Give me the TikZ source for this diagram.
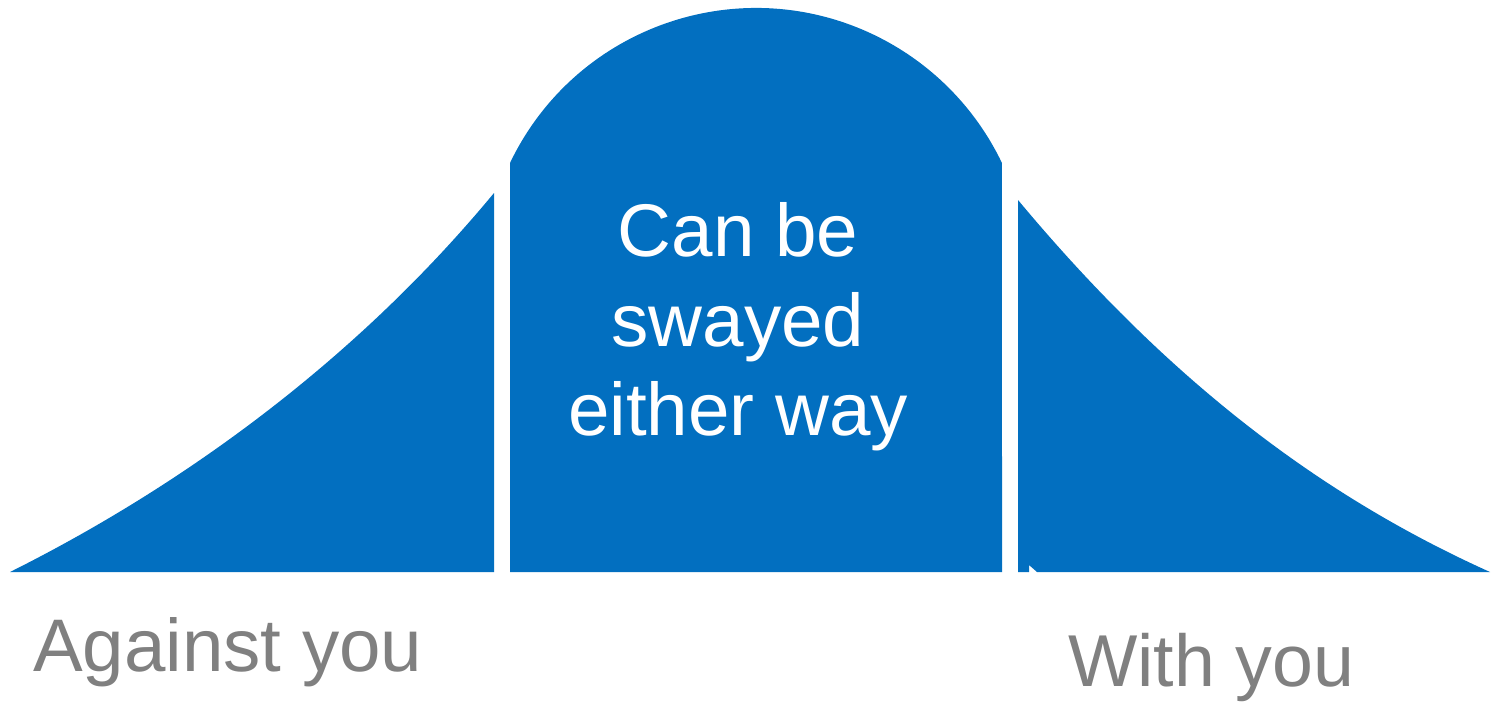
\documentclass[tikz,border=0pt]{standalone}
\usepackage{fontspec}
\setmainfont{Liberation Sans}
\definecolor{curveblue}{RGB}{2,111,192}
\definecolor{labelgray}{RGB}{128,128,128}
\tikzset{
  region/.style={fill=curveblue, draw=none},
  midtext/.style={text=white, inner sep=0pt, anchor=base, font=\fontsize{74.6}{89}\selectfont},
  sidetext/.style={text=labelgray, inner sep=0pt, anchor=base west},
}
\begin{document}
\begin{tikzpicture}[x=1pt,y=-1pt]
\useasboundingbox (0,0) rectangle (1491,704);
% left tail
\fill[region] (10,572) .. controls (190,482) and (360,355) .. (494,193) -- (494,572) -- cycle;
% middle
\fill[region] (510,572) -- (510,163) arc[start angle=154.43, end angle=25.57, radius=272.7pt] -- (1002,572) -- cycle;
% right tail
\fill[region] (1018,200) .. controls (1168,380) and (1320,495.5) .. (1490,572) -- (1037,572) -- (1029,565) -- (1029,572) -- (1018,572) -- cycle;
% texts
\node[midtext] (l1) at (738,256.7) {Can be};
\node[midtext] (l2) at (738,346) {swayed};
\node[midtext] (l3) at (738,435) {either way};
\node[sidetext, font=\fontsize{74.5}{90}\selectfont] (against) at (33,671.7) {Against you};
\node[sidetext, font=\fontsize{73.5}{88}\selectfont] (with) at (1068,686) {With you};
\end{tikzpicture}
\end{document}
